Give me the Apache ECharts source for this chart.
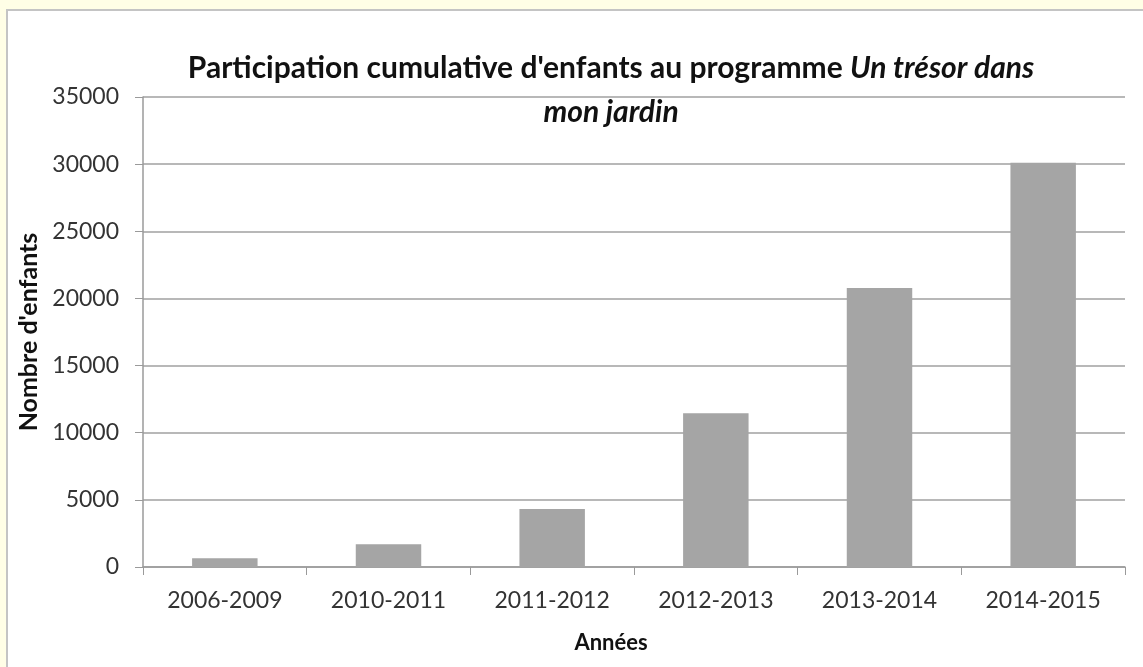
<!DOCTYPE html>
<html lang="fr" style="height: 100%">
<head>
  <meta charset="utf-8">
  <title>Participation cumulative</title>
</head>
<body style="height: 100%; margin: 0; background: #FFFEE6">
  <div id="container" style="width: 1143px; height: 667px"></div>
  <script type="text/javascript" src="https://cdn.jsdelivr.net/npm/echarts@6/dist/echarts.min.js"></script>
  <script type="text/javascript">
    // données
    var annees = ['2006-2009', '2010-2011', '2011-2012', '2012-2013', '2013-2014', '2014-2015'];
    var enfants = [650, 1690, 4320, 11450, 20770, 30100];
    var yTicks = { min: 0, max: 35000, interval: 5000 };

    var dom = document.getElementById('container');
    var myChart = echarts.init(dom, null, { renderer: 'canvas' });
    var font = 'Lato';

    var option = {
      backgroundColor: '#FFFEE6',
      animation: false,
      graphic: [
        {
          type: 'rect',
          z: -10,
          shape: { x: 7, y: 10, width: 1150, height: 670 },
          style: { fill: '#ffffff', stroke: '#c4c4c4', lineWidth: 2 }
        }
      ],
      title: {
        left: 606,
        top: 41,
        textAlign: 'center',
        text: "{b|Participation cumulative d'enfants au programme }{i|Un trésor dans}\n{i|mon jardin}",
        textStyle: {
          rich: {
            b: { fontFamily: font, fontWeight: 'bold', fontSize: 30, color: '#111', lineHeight: 44 },
            i: { fontFamily: font, fontWeight: 'bold', fontStyle: 'italic', fontSize: 30, color: '#111', lineHeight: 44 }
          }
        }
      },
      grid: { left: 143, right: 18, top: 97, bottom: 100 },
      xAxis: {
        type: 'category',
        data: annees,
        name: 'Années',
        nameLocation: 'middle',
        nameGap: 65,
        nameTextStyle: { fontFamily: font, fontWeight: 'bold', fontSize: 22, color: '#111', padding: [0, 46, 0, 0] },
        axisLine: { lineStyle: { color: '#9a9a9a', width: 1.5 } },
        axisTick: { show: true, length: 8, lineStyle: { color: '#9a9a9a' } },
        axisLabel: { fontFamily: font, fontSize: 23, color: '#333', margin: 22 }
      },
      yAxis: {
        type: 'value',
        min: yTicks.min,
        max: yTicks.max,
        interval: yTicks.interval,
        name: "Nombre d'enfants",
        nameLocation: 'middle',
        nameGap: 100,
        nameRotate: 90,
        nameTextStyle: { fontFamily: font, fontWeight: 'bold', fontSize: 25, color: '#111' },
        axisLine: { show: true, lineStyle: { color: '#9a9a9a', width: 1.5 } },
        axisTick: { show: true, length: 8, lineStyle: { color: '#9a9a9a' } },
        axisLabel: {
          fontFamily: font, fontSize: 23, color: '#333', margin: 24,
          formatter: function (v) { return String(v); }
        },
        splitLine: { lineStyle: { color: '#a0a0a0', width: 1.5 } }
      },
      series: [
        {
          type: 'bar',
          data: enfants,
          barWidth: '40%',
          itemStyle: { color: '#A5A5A5' }
        }
      ]
    };

    myChart.setOption(option);
    window.addEventListener('resize', myChart.resize);
  </script>
</body>
</html>
